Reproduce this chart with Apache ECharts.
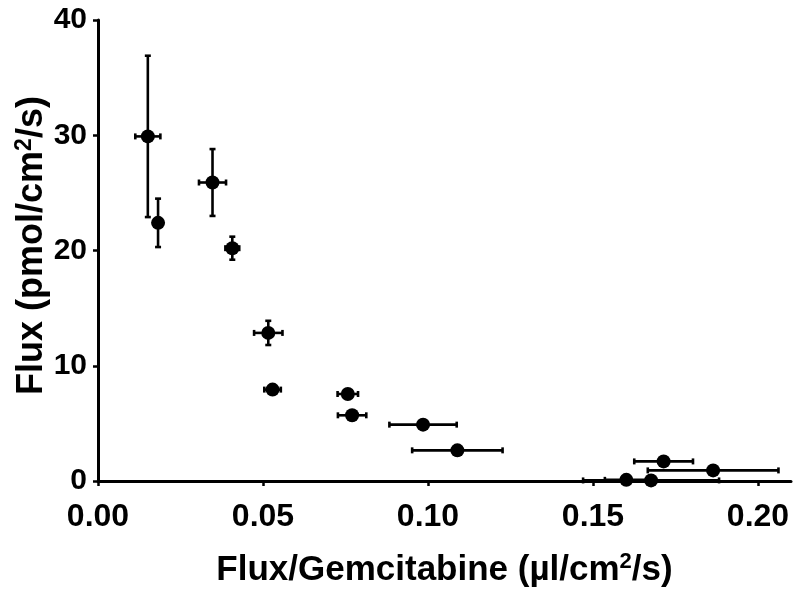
<!DOCTYPE html>
<html>
<head>
<meta charset="utf-8">
<script src="https://cdn.jsdelivr.net/npm/echarts@6/dist/echarts.min.js"></script>
<style>html,body{margin:0;padding:0;background:#fff}#c{width:800px;height:594px}</style>
</head>
<body>
<div id="c"></div>
<script>
// Data
var xVals = [0.0151, 0.0182, 0.0347, 0.0407, 0.0516, 0.0529, 0.0757, 0.0770, 0.0985, 0.1089, 0.1714, 0.1864, 0.1601, 0.1676];
var yVals = [29.9, 22.4, 25.9, 20.2, 12.85, 7.93, 7.55, 5.70, 4.89, 2.66, 1.70, 0.92, 0.10, 0.05];
var xErrs = [0.0038, 0.0008, 0.0041, 0.0021, 0.0043, 0.0025, 0.0031, 0.0043, 0.0102, 0.0137, 0.0089, 0.0198, 0.0065, 0.0206];
var yErrs = [7.0, 2.1, 2.9, 1.0, 1.05, 0.3, 0.3, 0.3, 0.2, 0.2, 0.2, 0.2, 0.2, 0.2];
var xTicks = { min: 0, max: 0.21, interval: 0.05 };
var yTicks = { min: 0, max: 40, interval: 10 };

var points = xVals.map(function (x, i) { return [x, yVals[i]]; });
var errData = xVals.map(function (x, i) { return [x, yVals[i], xErrs[i], yErrs[i]]; });

var chart = echarts.init(document.getElementById('c'), null, { renderer: 'canvas' });
var font = 'Liberation Sans, Arial, sans-serif';
var CAP = 3;

function renderErr(params, api) {
  var x = api.value(0), y = api.value(1), ex = api.value(2), ey = api.value(3);
  var l = api.coord([x - ex, y]), r = api.coord([x + ex, y]);
  var t = api.coord([x, y + ey]), b = api.coord([x, y - ey]);
  var st = { stroke: '#000', lineWidth: 2.6 };
  return {
    type: 'group',
    children: [
      { type: 'line', shape: { x1: l[0], y1: l[1], x2: r[0], y2: r[1] }, style: st },
      { type: 'line', shape: { x1: l[0], y1: l[1] - CAP, x2: l[0], y2: l[1] + CAP }, style: st },
      { type: 'line', shape: { x1: r[0], y1: r[1] - CAP, x2: r[0], y2: r[1] + CAP }, style: st },
      { type: 'line', shape: { x1: t[0], y1: t[1], x2: b[0], y2: b[1] }, style: st },
      { type: 'line', shape: { x1: t[0] - CAP, y1: t[1], x2: t[0] + CAP, y2: t[1] }, style: st },
      { type: 'line', shape: { x1: b[0] - CAP, y1: b[1], x2: b[0] + CAP, y2: b[1] }, style: st }
    ]
  };
}

chart.setOption({
  animation: false,
  backgroundColor: '#fff',
  grid: { left: 98, right: 9, top: 20, bottom: 113, containLabel: false, outerBoundsMode: 'none' },
  xAxis: {
    type: 'value',
    min: xTicks.min, max: xTicks.max, interval: xTicks.interval,
    splitLine: { show: false },
    axisLine: { show: true, onZero: false, lineStyle: { color: '#000', width: 3 } },
    axisTick: { show: true, length: 5, lineStyle: { color: '#000', width: 2.5 } },
    axisLabel: {
      color: '#000', fontFamily: font, fontWeight: 'bold', fontSize: 32, margin: 20,
      showMaxLabel: false,
      formatter: function (v) { return v.toFixed(2); }
    },
    name: '{n|Flux/Gemcitabine (\u00b5l/cm}{s|2}{n|/s)}',
    nameLocation: 'middle',
    nameGap: 70,
    nameMoveOverlap: false,
    nameTextStyle: {
      rich: {
        n: { fontFamily: font, fontWeight: 'bold', fontSize: 35, color: '#000' },
        s: { fontFamily: font, fontWeight: 'bold', fontSize: 22, color: '#000', verticalAlign: 'top', padding: [0, 0, 16, 0] }
      }
    }
  },
  yAxis: {
    type: 'value',
    min: yTicks.min, max: yTicks.max, interval: yTicks.interval,
    splitLine: { show: false },
    axisLine: { show: true, onZero: false, lineStyle: { color: '#000', width: 3 } },
    axisTick: { show: true, length: 5, lineStyle: { color: '#000', width: 2.5 } },
    axisLabel: { color: '#000', fontFamily: font, fontWeight: 'bold', fontSize: 30, margin: 11 },
    name: '{n|Flux (pmol/cm}{s|2}{n|/s)}',
    nameLocation: 'middle',
    nameGap: 46,
    nameRotate: 90,
    nameMoveOverlap: false,
    nameTextStyle: {
      padding: [0, 0, 0, 10],
      rich: {
        n: { fontFamily: font, fontWeight: 'bold', fontSize: 36, color: '#000' },
        s: { fontFamily: font, fontWeight: 'bold', fontSize: 23, color: '#000', verticalAlign: 'top', padding: [0, 0, 16, 0] }
      }
    }
  },
  series: [
    {
      type: 'custom',
      data: errData,
      renderItem: renderErr,
      clip: false,
      encode: { x: 0, y: 1 },
      z: 3
    },
    {
      type: 'scatter',
      data: points,
      symbol: 'circle',
      symbolSize: 14,
      itemStyle: { color: '#000', opacity: 1 },
      clip: false,
      z: 4
    }
  ]
});
</script>
</body>
</html>
